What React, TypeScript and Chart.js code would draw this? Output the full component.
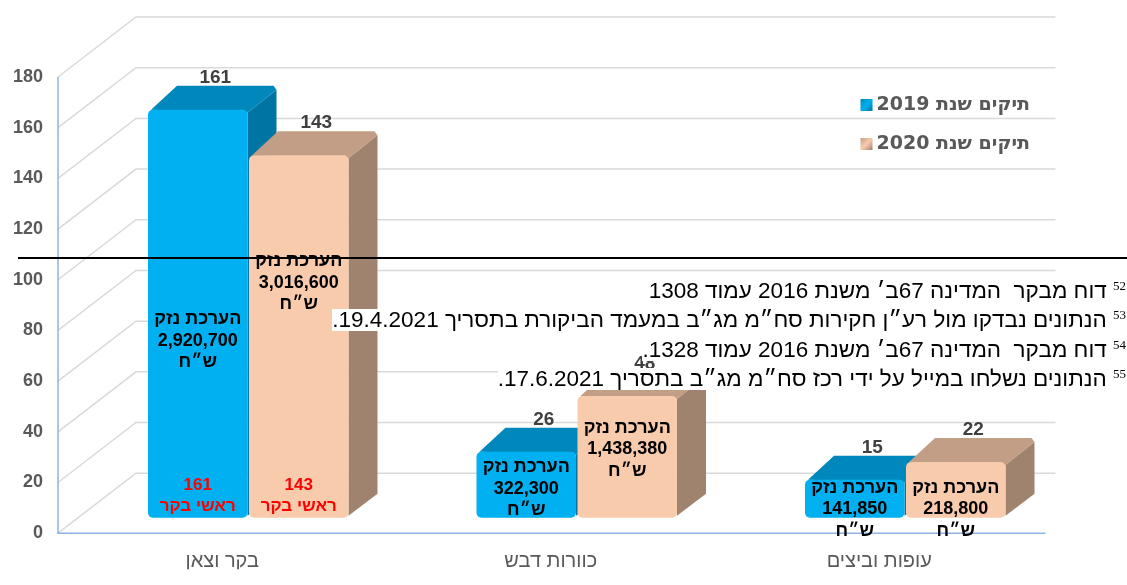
import React, { useEffect, useRef } from "react";
import { Chart, registerables } from "chart.js";

Chart.register(...registerables);

// ---------- data ----------
const categories = ["בקר וצאן", "כוורות דבש", "עופות וביצים"];
const seriesNames = ["תיקים שנת 2019", "תיקים שנת 2020"];
const files2019 = [161, 26, 15];
const files2020 = [143, 48, 22];
const damage2019 = ["2,920,700", "322,300", "141,850"];
const damage2020 = ["3,016,600", "1,438,380", "218,800"];
const cattleHeads2019 = ["161", "", ""];
const cattleHeads2020 = ["143", "", ""];
const yTicks = [0, 20, 40, 60, 80, 100, 120, 140, 160, 180];
// annotation anchors (value units on the bar scale)
const damageAnchor2019 = [69.8, 11.4, 3.4];
const damageAnchor2020 = [92.7, 27.1, 3.4];
const headsAnchor = 8.6;

const damageTitle = "הערכת נזק";
const currency = "ש״ח";
const headsTitle = "ראשי בקר";

const footnoteNums = ["52", "53", "54", "55"];
const footnoteTexts = [
  "דוח מבקר  המדינה 67ב׳ משנת 2016 עמוד 1308",
  "הנתונים נבדקו מול רע״ן חקירות סח״מ מג״ב במעמד הביקורת בתסריך 19.4.2021.",
  "דוח מבקר  המדינה 67ב׳ משנת 2016 עמוד 1328.",
  "הנתונים נשלחו במייל על ידי רכז סח״מ מג״ב בתסריך 17.6.2021.",
];

// ---------- styles ----------
const FONT = "'Liberation Sans', Arial, sans-serif";
const LEGEND_FONT = "'DejaVu Sans', 'Liberation Sans', sans-serif";
const frontColors = ["#00B0F0", "#F8CBAD"];
const topColors = ["#0088BD", "#C29E86"];
const sideColors = ["#0074A3", "#A0836E"];
const DX = 29;
const DY = -24;
const WALL_DX = 78;
const WALL_DY = -60;
const AXIS_INSET = 26;

const threeD = {
  id: "threeD",
  beforeDatasetsDraw(chart: any) {
    const { ctx, chartArea, scales } = chart;
    const ys = scales.y;
    const fx = chartArea.left - AXIS_INSET;
    const bx = fx + WALL_DX;
    const wallRight = chartArea.right - 14;
    ctx.save();
    ctx.strokeStyle = "#D9D9D9";
    ctx.lineWidth = 1.5;
    for (const v of yTicks) {
      const py = ys.getPixelForValue(v);
      ctx.beginPath();
      ctx.moveTo(fx, py);
      ctx.lineTo(bx, py + WALL_DY);
      ctx.lineTo(wallRight, py + WALL_DY);
      ctx.stroke();
    }
    // front axes
    ctx.strokeStyle = "#8DB4E2";
    ctx.lineWidth = 1.5;
    const y0 = ys.getPixelForValue(0);
    const yTop = ys.getPixelForValue(180);
    ctx.beginPath();
    ctx.moveTo(fx, yTop);
    ctx.lineTo(fx, y0);
    ctx.lineTo(chartArea.right - 24, y0);
    ctx.stroke();

    chart.data.datasets.forEach((_ds: any, i: number) => {
      const meta = chart.getDatasetMeta(i);
      meta.data.forEach((bar: any) => {
        const { x, y, base, width } = bar.getProps(["x", "y", "base", "width"], true);
        const l = x - width / 2;
        const r = x + width / 2;
        ctx.fillStyle = topColors[i];
        ctx.beginPath();
        ctx.moveTo(l + 3, y);
        ctx.lineTo(l + DX, y + DY);
        ctx.lineTo(r + DX - 3, y + DY);
        ctx.lineTo(r + DX, y + DY + 4);
        ctx.lineTo(r, y + 3);
        ctx.closePath();
        ctx.fill();
        ctx.fillStyle = sideColors[i];
        ctx.beginPath();
        ctx.moveTo(r, y + 3);
        ctx.lineTo(r + DX, y + DY + 4);
        ctx.lineTo(r + DX, base + DY);
        ctx.lineTo(r, base - 2);
        ctx.closePath();
        ctx.fill();
      });
    });
    ctx.restore();
  },
  afterDatasetsDraw(chart: any) {
    const { ctx, scales } = chart;
    const yb = scales.yb;
    ctx.save();
    ctx.direction = "rtl";
    ctx.textAlign = "center";
    const damages = [damage2019, damage2020];
    const anchors = [damageAnchor2019, damageAnchor2020];
    const heads = [cattleHeads2019, cattleHeads2020];
    chart.data.datasets.forEach((ds: any, i: number) => {
      const meta = chart.getDatasetMeta(i);
      meta.data.forEach((bar: any, j: number) => {
        const { x, y } = bar.getProps(["x", "y"], true);
        // value label on top
        ctx.fillStyle = "#404040";
        ctx.font = `bold 19px ${FONT}`;
        ctx.textBaseline = "alphabetic";
        ctx.fillText(String(ds.data[j]), x + DX / 2 + 3, y + DY - 3);
        // damage block
        ctx.fillStyle = "#000000";
        ctx.font = `bold 18px ${FONT}`;
        ctx.textBaseline = "middle";
        const cy = yb.getPixelForValue(anchors[i][j]);
        const lines = [damageTitle, damages[i][j], currency];
        lines.forEach((t, k) => ctx.fillText(t, x, cy + (k - 1) * 21.5));
        // cattle heads
        if (heads[i][j]) {
          const hy = yb.getPixelForValue(headsAnchor);
          ctx.fillStyle = "#FF0000";
          ctx.font = `bold 17px ${FONT}`;
          ctx.fillText(heads[i][j], x, hy - 10.5);
          ctx.fillText(headsTitle, x, hy + 10.5);
        }
      });
    });
    // legend
    const legendRight = 1030;
    const rows = [105, 144];
    ctx.font = `bold 19px ${LEGEND_FONT}`;
    ctx.textAlign = "right";
    ctx.textBaseline = "middle";
    seriesNames.forEach((name, i) => {
      ctx.fillStyle = "#595959";
      ctx.fillText(name, legendRight, rows[i]);
      const w = ctx.measureText(name).width;
      const ix = legendRight - w - 16;
      const g = ctx.createLinearGradient(ix, rows[i] - 6, ix + 12, rows[i] + 6);
      g.addColorStop(0, topColors[i]);
      g.addColorStop(0.5, frontColors[i]);
      g.addColorStop(1, sideColors[i]);
      ctx.fillStyle = g;
      ctx.fillRect(ix, rows[i] - 6, 12, 12);
    });
    ctx.restore();
  },
};

export default function App() {
  const ref = useRef<HTMLCanvasElement | null>(null);
  useEffect(() => {
    if (!ref.current) return;
    const chart = new Chart(ref.current, {
      type: "bar",
      data: {
        labels: categories,
        datasets: [
          {
            label: seriesNames[0],
            data: files2019,
            backgroundColor: frontColors[0],
            yAxisID: "yb",
            barPercentage: 0.985,
            categoryPercentage: 0.615,
            borderRadius: 5,
            borderSkipped: false,
          },
          {
            label: seriesNames[1],
            data: files2020,
            backgroundColor: frontColors[1],
            yAxisID: "yb",
            barPercentage: 0.985,
            categoryPercentage: 0.615,
            borderRadius: 5,
            borderSkipped: false,
          },
        ],
      },
      options: {
        responsive: false,
        animation: false,
        devicePixelRatio: 1,
        layout: { padding: { left: 0, right: 57.5, top: 77, bottom: 0 } },
        plugins: { legend: { display: false }, tooltip: { enabled: false } },
        scales: {
          x: {
            position: "bottom",
            grid: { display: false, drawTicks: false },
            border: { display: false },
            ticks: {
              font: { family: FONT, size: 20 },
              color: "#595959",
              padding: 16,
              labelOffset: -26,
            },
            afterFit: (s: any) => {
              s.height = 36;
            },
          },
          y: {
            position: "left",
            min: 0,
            max: 180,
            grid: { display: false, drawTicks: false },
            border: { display: false },
            ticks: {
              stepSize: 20,
              padding: 41,
              font: { family: FONT, size: 18, weight: "bold" },
              color: "#595959",
            },
            afterFit: (s: any) => {
              s.width = 84;
            },
          },
          yb: { display: false, min: -6.1, max: 173.9 },
        },
      } as any,
      plugins: [threeD],
    });
    return () => chart.destroy();
  }, []);

  return (
    <div style={{ position: "absolute", left: 0, top: 0, width: 1127, height: 585, background: "#fff", overflow: "hidden" }}>
      <canvas ref={ref} width={1127} height={585} style={{ position: "absolute", left: 0, top: 0 }} />
      <div style={{ position: "absolute", left: 18, top: 257, width: 1109, height: 2, background: "#000" }} />
      {footnoteTexts.map((t, i) => (
        <div
          key={i}
          dir="rtl"
          style={{
            position: "absolute",
            right: 1,
            top: 280 + i * 29.3,
            height: 22,
            lineHeight: "22px",
            whiteSpace: "pre",
            fontFamily: "'Liberation Sans', Arial, sans-serif",
            fontSize: 22.5,
            color: "#000",
          }}
        >
          <span style={{ display: "inline-block", height: 22, lineHeight: "22px", background: "#fff" }}>
            <span style={{ fontSize: 13, fontFamily: "'Liberation Serif', serif", position: "relative", top: -8 }}>
              {footnoteNums[i]}
            </span>{" "}
            {t}
          </span>
        </div>
      ))}
    </div>
  );
}
